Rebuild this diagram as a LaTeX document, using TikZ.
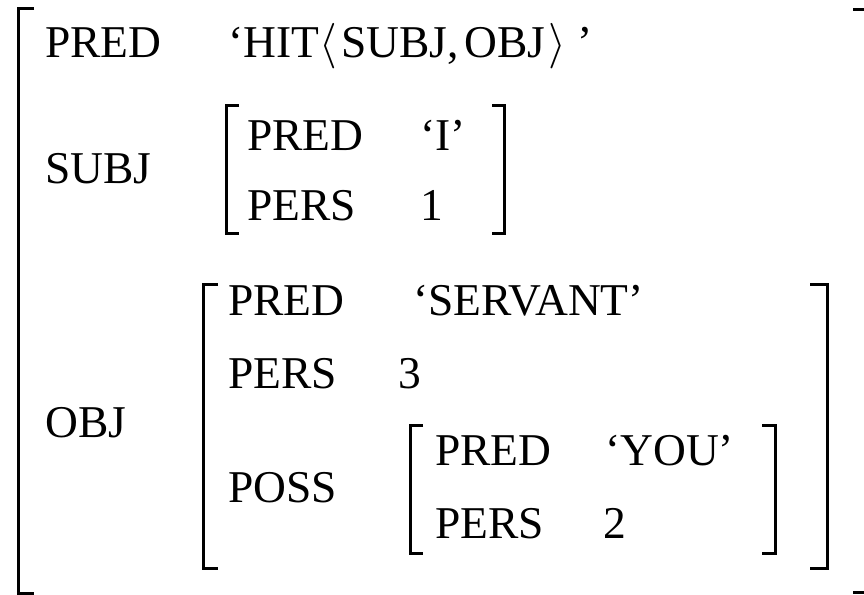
\RequirePackage{fix-cm}
\documentclass[tikz,border=0pt]{standalone}
\usepackage{fontspec}
\setmainfont{Liberation Serif}
\begin{document}
\begin{tikzpicture}[x=1pt,y=-1pt,
  lbl/.style={anchor=base west, inner sep=0pt, font=\fontsize{45.5}{54}\selectfont},
  brk/.style={line width=3pt, line join=miter}]
\useasboundingbox[fill=white] (0,0) rectangle (864,594);
% brackets
\draw[brk] (34,9) -- (18,9) -- (18,593) -- (34,593);
\draw[brk] (853,10) -- (869,10) -- (869,592) -- (853,592);
\draw[brk] (239,105) -- (226,105) -- (226,233) -- (239,233);
\draw[brk] (492,105) -- (504,105) -- (504,233) -- (492,233);
\draw[brk] (218,284) -- (203,284) -- (203,568) -- (218,568);
\draw[brk] (810,284) -- (827,284) -- (827,568) -- (810,568);
\draw[brk] (423,425) -- (410,425) -- (410,553) -- (423,553);
\draw[brk] (762,425) -- (775,425) -- (775,553) -- (762,553);
% texts
\node[lbl] (p1) at (45,58) {PRED};
\node[lbl] (v1) at (228,58) {‘HIT$\langle$\kern4.5pt SUBJ,\kern5.5pt OBJ\kern3pt$\rangle$\kern11pt’};
\node[lbl] (subj) at (45,183) {SUBJ};
\node[lbl] (sp) at (247,150) {PRED};
\node[lbl] (spv) at (420,150) {‘I’};
\node[lbl] (spe) at (247,220) {PERS};
\node[lbl] (spev) at (420,220) {1};
\node[lbl] (obj) at (45,437) {OBJ};
\node[lbl] (op) at (228,315) {PRED};
\node[lbl] (opv) at (413,315) {‘SERVANT’};
\node[lbl] (ope) at (228,388) {PERS};
\node[lbl] (opev) at (398,388) {3};
\node[lbl] (poss) at (228,502) {POSS};
\node[lbl] (pp) at (435,465) {PRED};
\node[lbl] (ppv) at (605,465) {‘YOU’};
\node[lbl] (ppe) at (435,538) {PERS};
\node[lbl] (ppev) at (603,538) {2};
\end{tikzpicture}
\end{document}
